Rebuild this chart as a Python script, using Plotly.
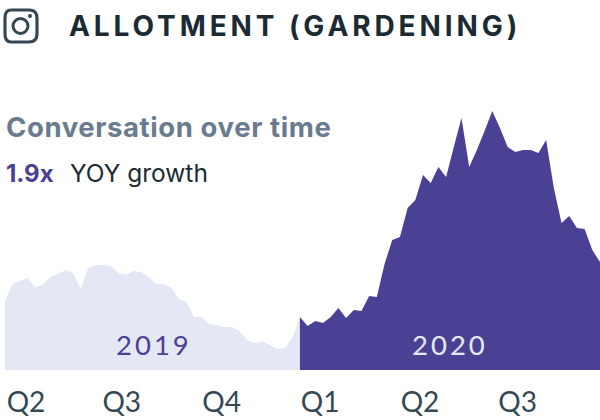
import plotly.graph_objects as go

values_2019 = [69, 86, 89, 92, 83, 85, 93, 96, 100, 97, 81, 102, 105, 105, 104, 97, 95, 99, 98, 93, 86, 86, 82, 71, 68, 53, 53, 46, 45, 43, 43, 39, 30, 27, 29, 25, 21, 22, 32, 52]
values_2020 = [53, 44, 49, 47, 53, 62, 52, 60, 59, 74, 73, 106, 130, 133, 162, 170, 195, 187, 203, 193, 223, 252, 203, 220, 239, 259, 242, 223, 218, 220, 220, 217, 230, 182, 147, 154, 142, 141, 120, 108]
tick_positions = [2.75, 15.3, 28.4, 41.3, 54.4, 67.2]
tick_labels = ["Q2", "Q3", "Q4", "Q1", "Q2", "Q3"]

YEAR_JOIN = 38.66
AXIS_END = 78
weeks_2019 = [YEAR_JOIN * i / 39 for i in range(40)]
weeks_2020 = [YEAR_JOIN + (AXIS_END - YEAR_JOIN) * i / 39 for i in range(40)]

DARK = "#1c2b33"
GREY = "#6a7b90"
PURPLE = "#4b4194"
PALE = "#e3e8f4"
AXIS = "#344854"
FONT = "Inter"
NUM = "Lato"
PLOT_H = 370

fig = go.Figure()
fig.add_trace(go.Scatter(x=weeks_2019, y=values_2019, mode="lines", line=dict(width=0, color=PALE),
                         fill="tozeroy", fillcolor=PALE, hoverinfo="skip", showlegend=False))
fig.add_trace(go.Scatter(x=weeks_2020, y=values_2020, mode="lines", line=dict(width=0, color=PURPLE),
                         fill="tozeroy", fillcolor=PURPLE, hoverinfo="skip", showlegend=False))


def px(x): return x / 600
def py(y): return 1 - y / PLOT_H


def note(text, x, y, size, color, family=FONT, weight=400, anchor="left"):
    fig.add_annotation(text=text, x=px(x), y=py(y), xref="paper", yref="paper", xanchor=anchor,
                       yanchor="middle", showarrow=False, align="left",
                       font=dict(size=size, color=color, family=family, weight=weight))


note("ALLOTMENT (GARDENING)", 67, 26, 28, DARK, weight=700)
note("Conversation over time", 4, 127, 27.5, GREY, weight=700)
note("1.9x", 4, 173, 24, PURPLE, weight=700)
note("YOY growth", 68, 173, 24.5, DARK)
note("2019", 114, 344, 27.5, PURPLE, family=NUM)
note("2020", 410, 344, 27.5, PALE, family=NUM)

ICON = "#344854"
fig.add_shape(type="path", xref="paper", yref="paper", line=dict(color=ICON, width=3.2),
              path=(f"M {px(11)} {py(10)} L {px(29)} {py(10)} Q {px(37)} {py(10)} {px(37)} {py(18)} "
                    f"L {px(37)} {py(34)} Q {px(37)} {py(42)} {px(29)} {py(42)} L {px(11)} {py(42)} "
                    f"Q {px(5)} {py(42)} {px(5)} {py(34)} L {px(5)} {py(18)} Q {px(5)} {py(10)} {px(11)} {py(10)} Z"))
fig.add_shape(type="circle", xref="paper", yref="paper", line=dict(color=ICON, width=3),
              x0=px(13), x1=px(28), y0=py(18.5), y1=py(33.5))
fig.add_shape(type="circle", xref="paper", yref="paper", line=dict(width=0), fillcolor=ICON,
              x0=px(28), x1=px(32), y0=py(14), y1=py(18))

fig.update_layout(
    width=600, height=420, margin=dict(l=0, r=0, t=0, b=50),
    paper_bgcolor="white", plot_bgcolor="white", showlegend=False,
    xaxis=dict(range=[-0.655, AXIS_END], tickvals=tick_positions, ticktext=tick_labels, showgrid=False, zeroline=False,
               showline=False, ticks="", ticklabelstandoff=13,
               tickfont=dict(size=28, color=AXIS, family=NUM)),
    yaxis=dict(range=[0, 370], visible=False, showgrid=False, zeroline=False),
)

spacing = """
document.body.style.margin='0';
document.querySelectorAll('.annotation-text').forEach(function(t){
  var s=t.textContent;
  if(s.indexOf('ALLOTMENT')===0){t.style.letterSpacing='3.9px';}
  if(s.indexOf('Conversation')===0){t.style.letterSpacing='0.6px';}
  if(s==='2019'||s==='2020'){t.style.letterSpacing='3px';}
});
"""
fig.write_html("out.html", post_script=spacing, config={"displayModeBar": False})
